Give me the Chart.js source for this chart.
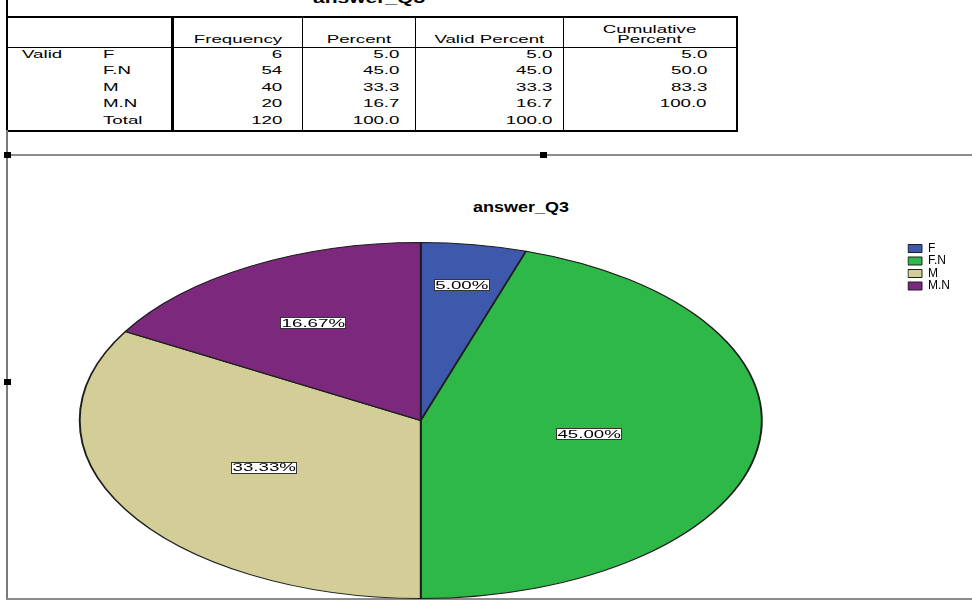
<!DOCTYPE html>
<html>
<head>
<meta charset="utf-8">
<script src="https://cdn.jsdelivr.net/npm/chart.js@4.4.1/dist/chart.umd.min.js"></script>
<style>
  html, body { margin: 0; padding: 0; background: #fff; }
  body { width: 972px; height: 600px; position: relative; overflow: hidden;
         font-family: 'Liberation Sans', Arial, sans-serif; color: #000; }
  .rule { position: absolute; }
  .handle { position: absolute; width: 7px; height: 6px; background: #000; }
  .cap { position: absolute; font-weight: bold; text-align: center; white-space: nowrap; }
  .cap span { display: inline-block; }

  #freq { position: absolute; left: 6px; top: 16px; border-collapse: collapse;
          table-layout: fixed; width: 732px; font-size: 11px; }
  #freq th, #freq td { padding: 0; font-weight: normal; white-space: nowrap; overflow: visible; }
  #freq th { height: 26px; vertical-align: bottom; text-align: center; line-height: 10px;
             padding-bottom: 3px; border-top: 2px solid #000; border-bottom: 1px solid #000; }
  #freq td { height: 16.4px; vertical-align: top; line-height: 13px; }
  #freq tr > :first-child { border-left: 2px solid #000; }
  #freq tr > :last-child { border-right: 2px solid #000; }
  #freq .c2 { border-left: 3px solid #000; }
  #freq .c3, #freq .c4, #freq .c5 { border-left: 1px solid #000; }
  #freq tbody tr:last-child td { border-bottom: 2px solid #000; }
  #freq td.num { text-align: right; }
  #freq td.lab { text-align: left; }
  #freq span { display: inline-block; transform: scaleX(1.7); }
  #freq th span { transform-origin: center; }
  #freq td.num span { transform-origin: right; }
  #freq td.lab span { transform-origin: left; }

  #chartBox { position: absolute; left: -66px; top: 156px; width: 1026px; height: 444px; }
</style>
</head>
<body>
<div class="cap" id="tableCaption" style="left:0;width:738px;top:-10px;font-size:15px;line-height:15px;"><span style="transform:scaleX(1.4)">answer_Q3</span></div>
<table id="freq">
  <colgroup>
    <col style="width:88px"><col style="width:77px"><col style="width:130px">
    <col style="width:113px"><col style="width:148px"><col style="width:174px">
  </colgroup>
  <thead><tr id="headRow"></tr></thead>
  <tbody id="bodyRows"></tbody>
</table>

<!-- viewer frame lines and selection handles -->
<div class="rule" style="left:6px;top:0;width:2px;height:17px;background:#000"></div>
<div class="rule" style="left:6px;top:130px;width:2px;height:470px;background:#7a7a7a"></div>
<div class="rule" style="left:7px;top:154px;width:965px;height:2px;background:#8c8c8c"></div>
<div class="rule" style="left:7px;top:598px;width:965px;height:2px;background:#8c8c8c"></div>
<div class="handle" style="left:4px;top:152px"></div>
<div class="handle" style="left:540px;top:152px"></div>
<div class="handle" style="left:4px;top:379px"></div>

<div class="cap" id="chartTitle" style="left:421px;width:200px;top:199px;font-size:15px;line-height:15px;"><span style="transform:scaleX(1.2)">answer_Q3</span></div>

<div id="chartBox"><canvas id="pie"></canvas></div>

<script>
// Frequency table for answer_Q3
const categories = ['F', 'F.N', 'M', 'M.N'];
const frequencies = [6, 54, 40, 20];
const columnHeads = ['Frequency', 'Percent', 'Valid Percent', 'Cumulative<br>Percent'];
const sliceColors = ['#3E58AC', '#2EB848', '#D3CE97', '#7C287D'];

const total = frequencies.reduce((a, b) => a + b, 0);
const percents = frequencies.map(v => v / total * 100);

// ---- table ----
const numPad = ['19px', '15px', '10px', '29px'];
const headRow = document.getElementById('headRow');
headRow.innerHTML = '<th class="c0"></th><th class="c1"></th>' +
  columnHeads.map((h, i) => `<th class="c${i + 2}"><span>${h}</span></th>`).join('');

const body = document.getElementById('bodyRows');
let cumulative = 0;
const rows = categories.map((c, i) => {
  cumulative += percents[i];
  return [i === 0 ? 'Valid' : '', c, String(frequencies[i]), percents[i].toFixed(1),
          percents[i].toFixed(1), cumulative.toFixed(1)];
});
rows.push(['', 'Total', String(total), (100).toFixed(1), (100).toFixed(1), '']);
rows.forEach(r => {
  const tr = document.createElement('tr');
  r.forEach((txt, j) => {
    const td = document.createElement('td');
    td.className = 'c' + j + (j < 2 ? ' lab' : ' num');
    if (j === 0) td.style.paddingLeft = '14px';
    if (j === 1) td.style.paddingLeft = '8px';
    if (j >= 2) td.style.paddingRight = numPad[j - 2];
    if (txt) { const s = document.createElement('span'); s.textContent = txt; td.appendChild(s); }
    tr.appendChild(td);
  });
  body.appendChild(tr);
});

// ---- pie ----
const FONT = "'Liberation Sans', Arial, sans-serif";
const labelRadius = [0.77, 0.5, 0.53, 0.63];

// Stretches the pie into an ellipse and writes boxed percentage labels
const ellipsePie = {
  id: 'ellipsePie',
  beforeDatasetsDraw(chart, args, opts) {
    const arc = chart.getDatasetMeta(0).data[0];
    const ctx = chart.ctx;
    ctx.save();
    ctx.translate(arc.x, arc.y);
    ctx.scale(opts.stretch, 1);
    ctx.translate(-arc.x, -arc.y);
  },
  afterDatasetsDraw(chart, args, opts) {
    const ctx = chart.ctx;
    ctx.restore();
    const meta = chart.getDatasetMeta(0);
    const values = chart.data.datasets[0].data;
    const sum = values.reduce((a, b) => a + b, 0);
    meta.data.forEach((el, i) => {
      const mid = (el.startAngle + el.endAngle) / 2;
      const r = el.outerRadius * labelRadius[i];
      const px = el.x + opts.stretch * r * Math.cos(mid);
      const py = el.y + r * Math.sin(mid);
      const txt = (values[i] / sum * 100).toFixed(2) + '%';
      ctx.save();
      ctx.font = '11px ' + FONT;
      const tw = ctx.measureText(txt).width * opts.textStretch;
      const bw = Math.round(tw + 3), bh = 12;
      const bx = Math.round(px - bw / 2), by = Math.round(py - bh / 2);
      ctx.fillStyle = '#fff';
      ctx.fillRect(bx, by, bw, bh);
      ctx.strokeStyle = '#333';
      ctx.lineWidth = 1;
      ctx.strokeRect(bx + 0.5, by + 0.5, bw - 1, bh - 1);
      ctx.translate(px, py + 0.5);
      ctx.scale(opts.textStretch, 1);
      ctx.fillStyle = '#000';
      ctx.textAlign = 'center';
      ctx.textBaseline = 'middle';
      ctx.fillText(txt, 0, 0);
      ctx.restore();
    });
  }
};

new Chart(document.getElementById('pie'), {
  type: 'pie',
  data: {
    labels: categories,
    datasets: [{
      data: frequencies,
      backgroundColor: sliceColors,
      borderColor: '#1e1e1e',
      borderWidth: 1
    }]
  },
  plugins: [ellipsePie],
  options: {
    responsive: true,
    maintainAspectRatio: false,
    animation: false,
    devicePixelRatio: 1,
    layout: { padding: { top: 86, bottom: 1, left: 0, right: 0 } },
    plugins: {
      ellipsePie: { stretch: 1.916, textStretch: 1.7 },
      title: { display: false },
      tooltip: { enabled: false },
      legend: {
        position: 'right',
        align: 'start',
        labels: {
          boxWidth: 14,
          boxHeight: 8,
          padding: 0.5,
          color: '#000',
          font: { family: FONT, size: 12 }
        }
      }
    }
  }
});
</script>
</body>
</html>
